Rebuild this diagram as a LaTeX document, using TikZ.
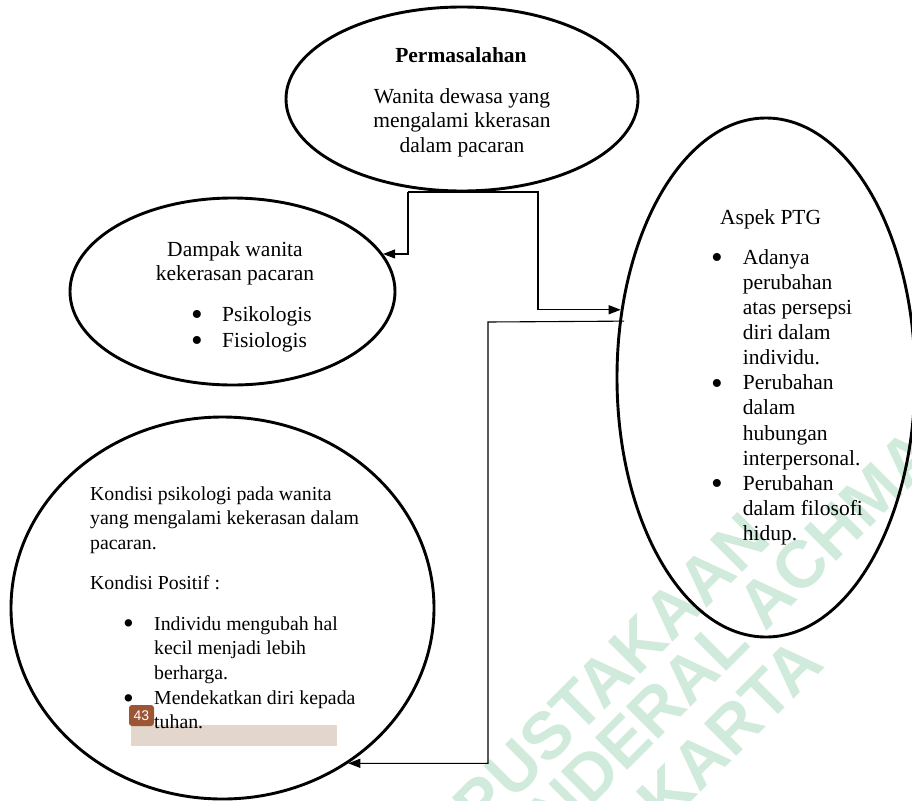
\documentclass[tikz,border=0pt]{standalone}
\usepackage{fontspec}
\setmainfont{Liberation Serif}
\newfontfamily\hurufair{Liberation Sans}
\usetikzlibrary{shapes.geometric,arrows.meta}
\definecolor{hijauair}{RGB}{208,234,220}
\definecolor{coklatlabel}{RGB}{156,86,54}
\definecolor{krem}{RGB}{227,214,204}
\newcommand{\titik}[1]{\makebox[#1pt][l]{\raisebox{-0.2em}{\scalebox{1.55}{\textbullet}}}}
\newcommand{\inden}[1]{\hspace*{#1pt}}

\begin{document}
\begin{tikzpicture}[x=1pt, y=-1pt]
            \tikzset{lingkar/.style={draw, ellipse, line width=2.9pt, inner sep=0pt}, teks/.style={inner sep=0pt, font=\fontsize{21.5}{25}\selectfont}, tekskecil/.style={inner sep=0pt, font=\fontsize{19.8}{24.7}\selectfont}, panah/.style={draw, line width=1.1pt, -{Triangle[length=12pt,width=9pt]}}, air/.style={rotate=45, anchor=base west, inner sep=0pt, text=hijauair, font=\hurufair\bfseries\fontsize{66.5}{70}\selectfont}}
                    \useasboundingbox (0,0) rectangle (912,800);
                    \begin{scope}
                        \clip (0,0) rectangle (912,800);
                        \node[air] (air1) at (385,930) {PERPUSTAKAAN};
                        \node[air] (air2) at (499,899) {JENDERAL ACHMAD YANI};
                        \node[air] (air3) at (500,993) {YOGYAKARTA};
                    \end{scope}
                    \fill[krem] (131,725) rectangle (337,746);
                    \node[lingkar, minimum width=352pt, minimum height=184pt] (masalah) at (462,99) {};
                    \node[lingkar, minimum width=325pt, minimum height=187pt] (dampak) at (232.5,291.5) {};
                    \node[lingkar, minimum width=298pt, minimum height=519pt] (aspek) at (766,377.5) {};
                    \node[lingkar, minimum width=423pt, minimum height=382pt] (bawah) at (222.5,608) {};
                    \node[teks, anchor=base, font=\bfseries\fontsize{21.5}{25}\selectfont] (judulMasalah) at (461,63) {Permasalahan};
                    \node[teks, align=center, anchor=base, font=\fontsize{21.5}{24.5}\selectfont] (isiMasalah) at (462,152) {Wanita dewasa yang\\mengalami kkerasan\\dalam pacaran};
                    \node[teks, align=center, anchor=base, font=\fontsize{21.5}{24}\selectfont] (judulDampak) at (235,280.5) {Dampak wanita\\kekerasan pacaran};
                    \node[teks, align=left, anchor=base west, font=\fontsize{21.5}{26}\selectfont] (isiDampak) at (191,347) {\titik{31}Psikologis\\\titik{31}Fisiologis};
                    \node[teks, anchor=base west] (judulPTG) at (720,224) {Aspek PTG};
                    \node[teks, align=left, anchor=base west, font=\fontsize{21.5}{25.15}\selectfont] (isiPTG) at (711,540.7) {\titik{31.7}Adanya\\\inden{31.7}perubahan\\\inden{31.7}atas persepsi\\\inden{31.7}diri dalam\\\inden{31.7}individu.\\\titik{31.7}Perubahan\\\inden{31.7}dalam\\\inden{31.7}hubungan\\\inden{31.7}interpersonal.\\\titik{31.7}Perubahan\\\inden{31.7}dalam filosofi\\\inden{31.7}hidup.};
                    \node[tekskecil, align=left, anchor=base west] (judulBawah) at (90,549.4) {Kondisi psikologi pada wanita\\yang mengalami kekerasan dalam\\pacaran.};
                    \node[tekskecil, anchor=base west] (positif) at (90,589) {Kondisi Positif :};
                    \node[tekskecil, align=left, anchor=base west] (isiBawah) at (123,728.8) {\titik{31}Individu mengubah hal\\\inden{31}kecil menjadi lebih\\\inden{31}berharga.\\\titik{31}Mendekatkan diri kepada\\\inden{31}tuhan.};
                    \coordinate (simpulA) at (408,192);
                    \coordinate (simpulB) at (538,192);
                    \coordinate (simpulC) at (488,322);
                    \draw[panah] (simpulA) |- (dampak.14.6);
                    \draw[panah] (simpulA) -- (simpulB) |- (aspek.155.8);
                    \draw[panah] ([xshift=5pt]aspek.159.13) -- (simpulC) |- (bawah.-51.4);
                    \node[fill=coklatlabel, rounded corners=3pt, text=white, minimum width=25pt, minimum height=21pt, inner sep=0pt, font=\hurufair\fontsize{14}{14}\selectfont] (nomor) at (141.5,715.5) {43};
            \end{tikzpicture}
\end{document}
